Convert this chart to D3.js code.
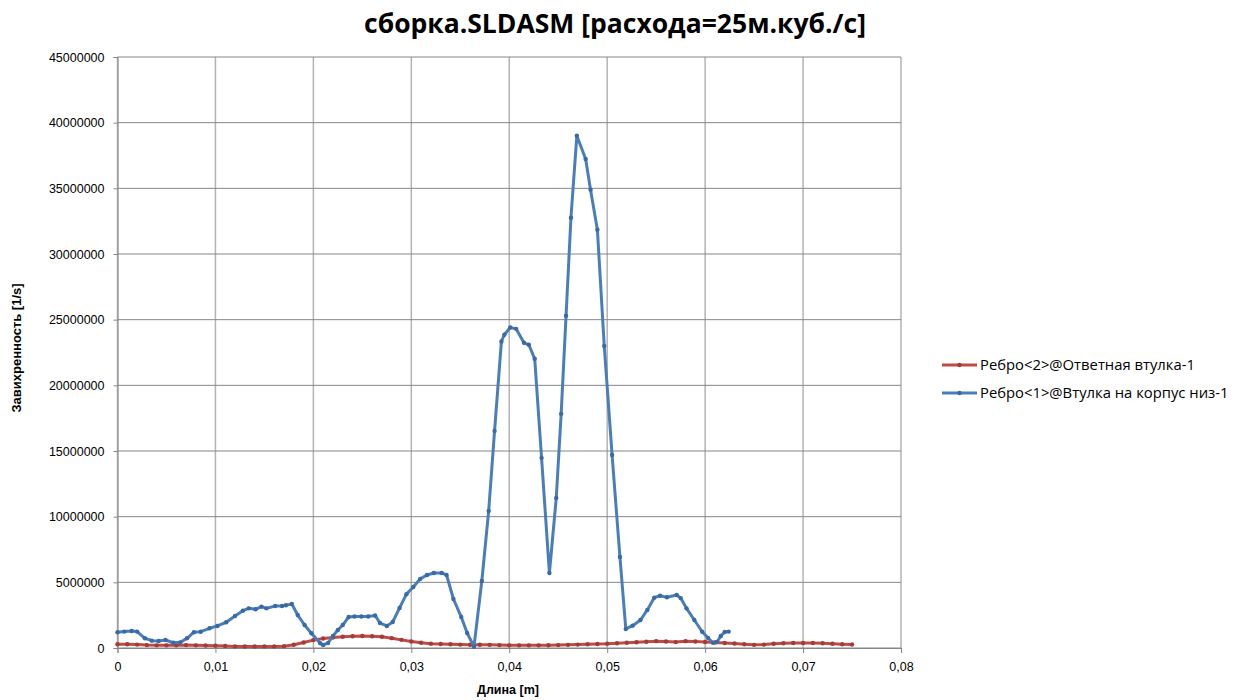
<!DOCTYPE html>
<html>
<head>
<meta charset="utf-8">
<script src="https://cdn.jsdelivr.net/npm/d3@7"></script>
<style>
  body { margin: 0; background: #fff; }
  svg { display: block; }
</style>
</head>
<body>
<svg id="chart" width="1249" height="700"></svg>
<script>
// Series 1 (blue): Ребро<1>@Втулка на корпус низ-1
const blueX = [0,0.0007,0.00145,0.002,0.0028,0.0035,0.0042,0.0049,0.0057,0.0064,0.0071,0.0078,0.0085,0.0094,0.0102,0.0111,0.012,0.0128,0.0134,0.0141,0.0147,0.0152,0.0161,0.0168,0.0172,0.0178,0.0184,0.0191,0.0198,0.0207,0.021,0.0215,0.022,0.0225,0.023,0.0236,0.0242,0.0249,0.0256,0.0263,0.0268,0.0275,0.0281,0.0288,0.0295,0.0302,0.0309,0.0316,0.0323,0.0331,0.0336,0.0343,0.0351,0.0357,0.0364,0.0372,0.0379,0.0385,0.0392,0.0395,0.0401,0.0407,0.0415,0.042,0.0426,0.0433,0.0441,0.0448,0.0453,0.0458,0.0463,0.0469,0.0478,0.0483,0.049,0.0497,0.0505,0.0513,0.0519,0.0526,0.0534,0.0541,0.0548,0.0554,0.0561,0.0571,0.0575,0.0581,0.0589,0.0597,0.0603,0.0608,0.0612,0.0616,0.062,0.0624];
const blueY = [1200000,1250000,1300000,1250000,740000,560000,530000,610000,400000,430000,740000,1200000,1240000,1500000,1680000,1960000,2440000,2840000,3020000,2950000,3150000,3020000,3200000,3200000,3250000,3350000,2510000,1750000,1120000,360000,230000,380000,910000,1370000,1750000,2360000,2400000,2400000,2400000,2480000,1900000,1680000,1980000,3050000,4100000,4650000,5260000,5560000,5710000,5710000,5560000,3730000,2360000,1140000,100000,5100000,10440000,16530000,23340000,23850000,24400000,24300000,23240000,23090000,22020000,14480000,5710000,11430000,17830000,25300000,32760000,39000000,37230000,34900000,31850000,23000000,14700000,6930000,1450000,1700000,2130000,2900000,3830000,3980000,3860000,4040000,3800000,3020000,2130000,1240000,760000,400000,460000,910000,1220000,1250000];

// Series 2 (red): Ребро<2>@Ответная втулка-1
const redX = [0,0.001,0.002,0.003,0.004,0.005,0.006,0.007,0.008,0.009,0.01,0.011,0.012,0.013,0.014,0.015,0.016,0.017,0.018,0.019,0.02,0.021,0.022,0.023,0.024,0.025,0.026,0.027,0.028,0.029,0.03,0.031,0.032,0.033,0.034,0.035,0.036,0.037,0.038,0.039,0.04,0.041,0.042,0.043,0.044,0.045,0.046,0.047,0.048,0.049,0.05,0.051,0.052,0.053,0.054,0.055,0.056,0.057,0.058,0.059,0.06,0.061,0.062,0.063,0.064,0.065,0.066,0.067,0.068,0.069,0.07,0.071,0.072,0.073,0.074,0.075];
const redY = [280000,280000,260000,220000,200000,200000,210000,220000,200000,190000,180000,150000,120000,110000,110000,120000,120000,140000,250000,420000,600000,720000,800000,860000,900000,910000,900000,860000,750000,620000,500000,400000,330000,300000,280000,260000,250000,250000,240000,220000,200000,200000,200000,200000,210000,220000,240000,260000,280000,300000,320000,360000,400000,440000,480000,520000,500000,450000,520000,500000,460000,420000,380000,340000,280000,240000,260000,320000,360000,380000,380000,380000,360000,320000,280000,270000];

const xTicks = [0,0.01,0.02,0.03,0.04,0.05,0.06,0.07,0.08];
const yTicks = [0,5000000,10000000,15000000,20000000,25000000,30000000,35000000,40000000,45000000];

const seriesList = [
  { name: "Ребро<2>@Ответная втулка-1", xs: redX, ys: redY, color: "#BE4B48", marker: "#A33C39" },
  { name: "Ребро<1>@Втулка на корпус низ-1", xs: blueX, ys: blueY, color: "#4A7EBB", marker: "#3A6AA5" }
];

const svg = d3.select("#chart");
const x = d3.scaleLinear().domain([0, 0.08]).range([117.5, 901]);
const y = d3.scaleLinear().domain([0, 45000000]).range([648, 57]);
const sans = "'Liberation Sans', Arial, sans-serif";

// Gridlines
svg.append("g").selectAll("line").data(xTicks).join("line")
  .attr("x1", d => x(d)).attr("x2", d => x(d))
  .attr("y1", y(45000000)).attr("y2", y(0))
  .attr("stroke", "#b3b3b3").attr("stroke-width", 1.5);
svg.append("g").selectAll("line").data(yTicks).join("line")
  .attr("x1", x(0)).attr("x2", x(0.08))
  .attr("y1", d => y(d)).attr("y2", d => y(d))
  .attr("stroke", "#868686").attr("stroke-width", 1);

// Axes
const fmtX = d => d === 0 ? "0" : d3.format(".2f")(d).replace(".", ",");
const xAxis = svg.append("g").attr("transform", `translate(0,${y(0)})`)
  .call(d3.axisBottom(x).tickValues(xTicks).tickFormat(fmtX).tickSize(5).tickPadding(9));
const yAxis = svg.append("g").attr("transform", `translate(${x(0)},0)`)
  .call(d3.axisLeft(y).tickValues(yTicks).tickFormat(d3.format("d")).tickSize(4).tickPadding(9));
[xAxis, yAxis].forEach(a => {
  a.selectAll(".domain").attr("stroke", "#868686");
  a.selectAll(".tick line").attr("stroke", "#868686");
  a.selectAll("text").style("font-size", "12.5px").style("font-family", sans).attr("fill", "#000");
});

// Series lines and markers
const line = d3.line().x(d => x(d[0])).y(d => y(d[1]));
seriesList.forEach(s => {
  const pts = s.xs.map((v, i) => [v, s.ys[i]]);
  const g = svg.append("g");
  g.append("path").datum(pts).attr("d", line)
    .attr("fill", "none").attr("stroke", s.color).attr("stroke-width", 3)
    .attr("stroke-linejoin", "round").attr("stroke-linecap", "round");
  g.selectAll("circle").data(pts).join("circle")
    .attr("cx", d => x(d[0])).attr("cy", d => y(d[1])).attr("r", 2.2)
    .attr("fill", s.marker);
});

// Title
svg.append("text").attr("x", 615).attr("y", 33).attr("text-anchor", "middle")
  .style("font-family", "'Open Sans', sans-serif")
  .style("font-weight", "bold").style("font-size", "26.5px")
  .text("сборка.SLDASM [расхода=25м.куб./с]");

// Axis titles
svg.append("text").attr("x", 508).attr("y", 694).attr("text-anchor", "middle")
  .style("font-family", sans).style("font-weight", "bold").style("font-size", "12.5px")
  .text("Длина [m]");
svg.append("text").attr("transform", "translate(21,348) rotate(-90)").attr("text-anchor", "middle")
  .style("font-family", sans).style("font-weight", "bold").style("font-size", "13px")
  .text("Завихренность [1/s]");

// Legend
const legend = svg.append("g");
seriesList.forEach((s, i) => {
  const ly = 365 + i * 28;
  legend.append("line").attr("x1", 942).attr("x2", 977).attr("y1", ly).attr("y2", ly)
    .attr("stroke", s.color).attr("stroke-width", 3);
  legend.append("circle").attr("cx", 959.5).attr("cy", ly).attr("r", 2.2).attr("fill", s.marker);
  legend.append("text").attr("x", 980).attr("y", ly + 5)
    .style("font-family", "'Open Sans', sans-serif").style("font-size", "14.8px")
    .text(s.name);
});
</script>
</body>
</html>
